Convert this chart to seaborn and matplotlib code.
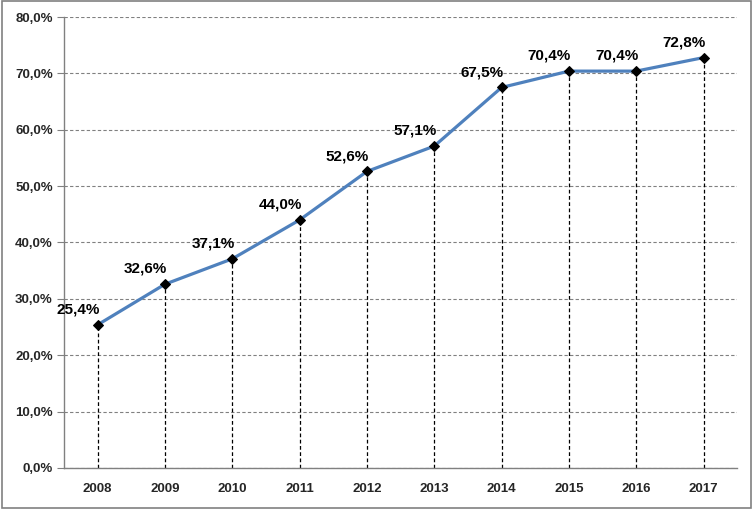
import matplotlib
matplotlib.use('Agg')
import pandas as pd
import matplotlib.pyplot as plt
import seaborn as sns
from matplotlib.ticker import FuncFormatter

# Datos
years = ['2008', '2009', '2010', '2011', '2012', '2013', '2014', '2015', '2016', '2017']
values = [25.4, 32.6, 37.1, 44.0, 52.6, 57.1, 67.5, 70.4, 70.4, 72.8]
labels = ['25,4%', '32,6%', '37,1%', '44,0%', '52,6%', '57,1%', '67,5%', '70,4%', '70,4%', '72,8%']

df = pd.DataFrame({'year': years, 'value': values})
df['pos'] = range(len(df))

sns.set_style('white')
plt.rcParams['font.family'] = ['Liberation Sans', 'DejaVu Sans']

fig = plt.figure(figsize=(7.53, 5.09), dpi=100)
ax = fig.add_axes([0.085, 0.0806, 0.894, 0.886])

# lineas verticales punteadas hasta cero
ax.vlines(df['pos'], 0, df['value'], colors='black', linestyles=(0, (3, 2)), linewidth=0.9, zorder=2)

sns.lineplot(data=df, x='pos', y='value', ax=ax, color='#4F81BD', linewidth=2.3,
             marker='D', markersize=5, markerfacecolor='black', markeredgecolor='black', zorder=3)

for p, v, t in zip(df['pos'], df['value'], labels):
    ax.annotate(t, (p, v), xytext=(-14, 11), textcoords='offset points', ha='center', va='center',
                fontsize=11, fontweight='bold', color='black')

ax.set_xlim(-0.5, len(years) - 0.5)
ax.set_ylim(0, 80)
ax.set_yticks(range(0, 81, 10))
ax.yaxis.set_major_formatter(FuncFormatter(lambda y, _: f'{y:.1f}'.replace('.', ',') + '%'))
ax.set_xticks(df['pos'])
ax.set_xticklabels(years)
ax.set_xlabel('')
ax.set_ylabel('')

ax.grid(axis='y', color='#808080', linestyle=(0, (3, 2)), linewidth=0.8)
ax.grid(axis='x', visible=False)
ax.set_axisbelow(True)

for s in ['top', 'right']:
    ax.spines[s].set_visible(False)
for s in ['left', 'bottom']:
    ax.spines[s].set_color('#808080')
    ax.spines[s].set_linewidth(1.0)

ax.tick_params(axis='y', length=5, color='#808080', direction='out', left=True, pad=3)
ax.tick_params(axis='x', length=0, pad=11)
for lbl in ax.get_yticklabels():
    lbl.set_fontweight('bold')
    lbl.set_fontsize(9.5)
for lbl in ax.get_xticklabels():
    lbl.set_fontweight('bold')
    lbl.set_fontsize(9.5)

# borde del grafico
fig.patches.append(plt.Rectangle((0.002, 0.002), 0.996, 0.996, transform=fig.transFigure,
                                 fill=False, edgecolor='#808080', linewidth=1.2))

fig.savefig('out.png', dpi=100)
